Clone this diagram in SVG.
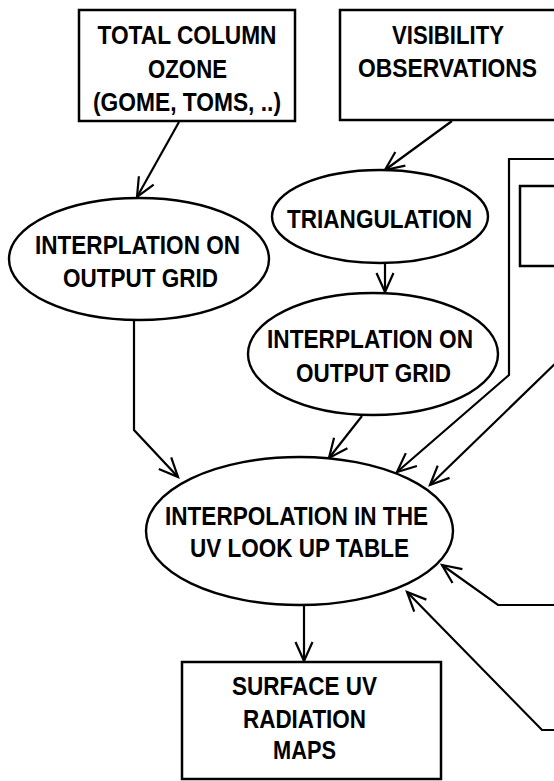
<svg xmlns="http://www.w3.org/2000/svg" width="554" height="781" viewBox="0 0 554 781">
<style>
  .box { fill: #fff; stroke: #000; stroke-width: 2.5; }
  .ell { fill: #fff; stroke: #000; stroke-width: 2.4; }
  .con { fill: none; stroke: #000; stroke-width: 2.2; stroke-linejoin: miter; }
  text { font-family: "Liberation Sans", Arial, sans-serif; font-weight: bold; font-size: 26.5px; text-anchor: middle; fill: #000; }
</style>
<defs>
  <marker id="arr" markerUnits="userSpaceOnUse" orient="auto" refX="0" refY="0" markerWidth="30" markerHeight="30" overflow="visible">
    <path d="M-19,-8.5 L0,0 L-19,8.5" fill="none" stroke="#000" stroke-width="2.2"/>
  </marker>
</defs>
<rect width="554" height="781" fill="#fff"/>

<g id="connectors">
  <path class="con" d="M179,122 L137,197" marker-end="url(#arr)"/>
  <path class="con" d="M452,121 L385,170" marker-end="url(#arr)"/>
  <path class="con" d="M385,263 L385,292" marker-end="url(#arr)"/>
  <path class="con" d="M134,320 L134,430 L178,477" marker-end="url(#arr)"/>
  <path class="con" d="M362,416 L329,458" marker-end="url(#arr)"/>
  <path class="con" d="M560,159 H509 V375 L397,472" marker-end="url(#arr)"/>
  <path class="con" d="M560,359 L430,485" marker-end="url(#arr)"/>
  <path class="con" d="M560,605 H498 L442,565" marker-end="url(#arr)"/>
  <path class="con" d="M560,730 H542 L407,592" marker-end="url(#arr)"/>
  <path class="con" d="M304,605 L304,661" marker-end="url(#arr)"/>
</g>

<g id="ozone">
  <rect class="box" x="79" y="10" width="216" height="111"/>
  <text x="187" y="44" textLength="179" lengthAdjust="spacingAndGlyphs">TOTAL COLUMN</text>
  <text x="187.5" y="78" textLength="79" lengthAdjust="spacingAndGlyphs">OZONE</text>
  <text x="187" y="111" textLength="188" lengthAdjust="spacingAndGlyphs">(GOME, TOMS, ..)</text>
</g>

<g id="visibility">
  <rect class="box" x="340" y="10" width="216" height="110"/>
  <text x="448" y="44" textLength="112" lengthAdjust="spacingAndGlyphs">VISIBILITY</text>
  <text x="447.5" y="77" textLength="179" lengthAdjust="spacingAndGlyphs">OBSERVATIONS</text>
</g>

<g id="right-group">
  <rect class="box" x="520" y="186" width="60" height="80"/>
</g>

<g id="interp1">
  <ellipse class="ell" cx="139" cy="259" rx="130" ry="61"/>
  <text x="137.5" y="254" textLength="205" lengthAdjust="spacingAndGlyphs">INTERPLATION ON</text>
  <text x="140.5" y="287" textLength="155" lengthAdjust="spacingAndGlyphs">OUTPUT GRID</text>
</g>

<g id="triangulation">
  <ellipse class="ell" cx="380" cy="216.5" rx="108" ry="46.5"/>
  <text x="379.5" y="228" textLength="185" lengthAdjust="spacingAndGlyphs">TRIANGULATION</text>
</g>

<g id="interp2">
  <ellipse class="ell" cx="373" cy="354" rx="125" ry="61"/>
  <text x="370" y="348" textLength="206" lengthAdjust="spacingAndGlyphs">INTERPLATION ON</text>
  <text x="373.5" y="382" textLength="155" lengthAdjust="spacingAndGlyphs">OUTPUT GRID</text>
</g>

<g id="lookup">
  <ellipse class="ell" cx="299.5" cy="531" rx="153.5" ry="74"/>
  <text x="296.5" y="525" textLength="263" lengthAdjust="spacingAndGlyphs">INTERPOLATION IN THE</text>
  <text x="299.5" y="557" textLength="219" lengthAdjust="spacingAndGlyphs">UV LOOK UP TABLE</text>
</g>

<g id="surface">
  <rect class="box" x="182" y="662" width="259" height="117"/>
  <text x="304.5" y="695" textLength="145" lengthAdjust="spacingAndGlyphs">SURFACE UV</text>
  <text x="304.5" y="728" textLength="123" lengthAdjust="spacingAndGlyphs">RADIATION</text>
  <text x="304.5" y="759" textLength="63" lengthAdjust="spacingAndGlyphs">MAPS</text>
</g>
</svg>
